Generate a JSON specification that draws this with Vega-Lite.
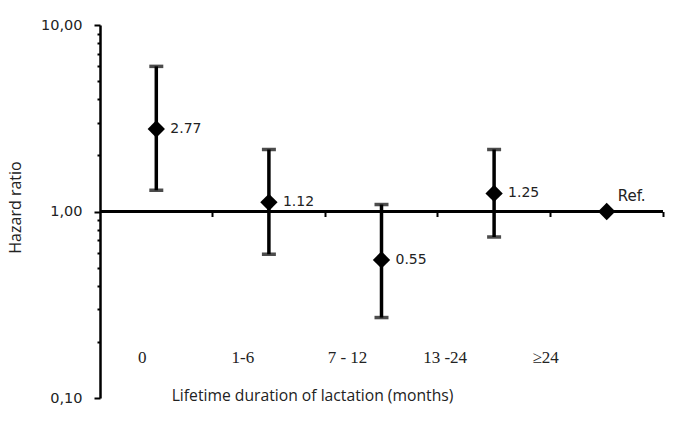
{
  "$schema": "https://vega.github.io/schema/vega-lite/v6.json",
  "width": 563,
  "height": 373,
  "autosize": "none",
  "padding": {"left": 100, "top": 25, "right": 22, "bottom": 31},
  "background": "white",
  "config": {"view": {"stroke": null}, "font": "Open Sans"},
  "data": {
    "values": [
      {"cat": "0", "hr": 2.77, "lo": 1.30, "hi": 6.0, "label": "2.77"},
      {"cat": "1-6", "hr": 1.12, "lo": 0.59, "hi": 2.15, "label": "1.12"},
      {"cat": "7 - 12", "hr": 0.55, "lo": 0.27, "hi": 1.09, "label": "0.55"},
      {"cat": "13 -24", "hr": 1.25, "lo": 0.73, "hi": 2.15, "label": "1.25"},
      {"cat": "≥24", "hr": 1.0, "label": "Ref."}
    ]
  },
  "resolve": {"axis": {"x": "independent", "y": "independent"}},
  "layer": [
    {
      "mark": {"type": "rule", "strokeWidth": 2.5, "color": "black"},
      "encoding": {
        "y": {
          "datum": 1,
          "type": "quantitative",
          "scale": {"type": "log", "domain": [0.1, 10], "nice": false},
          "axis": {
            "values": [0.1, 0.2, 0.3, 0.4, 0.5, 0.6, 0.7, 0.8, 0.9, 1, 2, 3, 4, 5, 6, 7, 8, 9, 10],
            "labelExpr": "abs(log(datum.value)/LN10 - round(log(datum.value)/LN10)) < 0.000001 ? replace(format(datum.value, '.2f'), '.', ',') : ''",
            "domainColor": "black",
            "domainWidth": 2.5,
            "tickColor": "black",
            "tickWidth": 2,
            "tickSize": {"condition": {"test": "abs(log(datum.value)/LN10 - round(log(datum.value)/LN10)) < 0.000001", "value": 6}, "value": 3},
            "labelPadding": 12,
            "labelFont": "DejaVu Sans",
            "labelFontSize": 14.5,
            "labelColor": "#222222",
            "grid": false,
            "title": "Hazard ratio",
            "titleFont": "Open Sans",
            "titleFontSize": 16,
            "titleFontWeight": "normal",
            "titleColor": "#222222",
            "titleX": -85,
            "titleY": 182,
            "titleAngle": -90,
            "titleAlign": "center",
            "titleBaseline": "middle"
          }
        }
      }
    },
    {
      "transform": [{"filter": "isValid(datum.lo)"}],
      "mark": {"type": "rule", "strokeWidth": 3.5, "color": "black"},
      "encoding": {
        "x": {
          "field": "cat",
          "type": "nominal",
          "sort": null,
          "scale": {"type": "band", "paddingInner": 0, "paddingOuter": 0},
          "axis": {
            "orient": "bottom",
            "domain": false,
            "ticks": false,
            "grid": false,
            "labelAngle": 0,
            "labelFont": "Liberation Serif",
            "labelFontSize": 17,
            "labelColor": "#222222",
            "labelBaseline": "middle",
            "labelPadding": -41,
            "labelOffset": {"condition": [
              {"test": "datum.value === '0'", "value": -14},
              {"test": "datum.value === '1-6'", "value": -26},
              {"test": "datum.value === '7 - 12'", "value": -34},
              {"test": "datum.value === '13 -24'", "value": -49}
            ], "value": -61},
            "title": "Lifetime duration of lactation (months)",
            "titleFont": "Open Sans",
            "titleFontSize": 15.7,
            "titleFontWeight": "normal",
            "titleColor": "#222222",
            "titleX": 212,
            "titleY": -3,
            "titleAlign": "center",
            "titleBaseline": "middle"
          }
        },
        "y": {"field": "lo", "type": "quantitative", "scale": {"type": "log", "domain": [0.1, 10], "nice": false}, "axis": null},
        "y2": {"field": "hi"}
      }
    },
    {
      "transform": [{"filter": "isValid(datum.lo)"}],
      "mark": {"type": "tick", "thickness": 3.5, "size": 14, "color": "black", "orient": "horizontal"},
      "encoding": {
        "x": {"field": "cat", "type": "nominal", "sort": null, "scale": {"type": "band", "paddingInner": 0, "paddingOuter": 0}, "axis": null},
        "y": {"field": "lo", "type": "quantitative", "scale": {"type": "log", "domain": [0.1, 10], "nice": false}, "axis": null}
      }
    },
    {
      "transform": [{"filter": "isValid(datum.hi)"}],
      "mark": {"type": "tick", "thickness": 3.5, "size": 14, "color": "black", "orient": "horizontal"},
      "encoding": {
        "x": {"field": "cat", "type": "nominal", "sort": null, "scale": {"type": "band", "paddingInner": 0, "paddingOuter": 0}, "axis": null},
        "y": {"field": "hi", "type": "quantitative", "scale": {"type": "log", "domain": [0.1, 10], "nice": false}, "axis": null}
      }
    },
    {
      "mark": {"type": "point", "shape": "diamond", "filled": true, "size": 300, "color": "black", "opacity": 1},
      "encoding": {
        "x": {
          "field": "cat",
          "type": "nominal",
          "sort": null,
          "scale": {"type": "band", "paddingInner": 0, "paddingOuter": 0},
          "axis": {
            "orient": "top",
            "offset": -186.5,
            "domain": false,
            "labels": false,
            "ticks": true,
            "tickSize": -5,
            "tickWidth": 2,
            "tickColor": "black",
            "bandPosition": 1,
            "grid": false,
            "title": null
          }
        },
        "y": {"field": "hr", "type": "quantitative", "scale": {"type": "log", "domain": [0.1, 10], "nice": false}, "axis": null}
      }
    },
    {
      "transform": [{"filter": "datum.label !== 'Ref.'"}],
      "mark": {"type": "text", "align": "left", "baseline": "middle", "dx": 14, "font": "DejaVu Sans", "fontSize": 14, "color": "#222222"},
      "encoding": {
        "x": {"field": "cat", "type": "nominal", "sort": null, "scale": {"type": "band", "paddingInner": 0, "paddingOuter": 0}, "axis": null},
        "y": {"field": "hr", "type": "quantitative", "scale": {"type": "log", "domain": [0.1, 10], "nice": false}, "axis": null},
        "text": {"field": "label"}
      }
    },
    {
      "transform": [{"filter": "datum.label === 'Ref.'"}],
      "mark": {"type": "text", "align": "left", "baseline": "middle", "dx": 11, "dy": -16, "font": "DejaVu Sans", "fontSize": 15, "color": "#222222"},
      "encoding": {
        "x": {"field": "cat", "type": "nominal", "sort": null, "scale": {"type": "band", "paddingInner": 0, "paddingOuter": 0}, "axis": null},
        "y": {"field": "hr", "type": "quantitative", "scale": {"type": "log", "domain": [0.1, 10], "nice": false}, "axis": null},
        "text": {"field": "label"}
      }
    }
  ]
}
